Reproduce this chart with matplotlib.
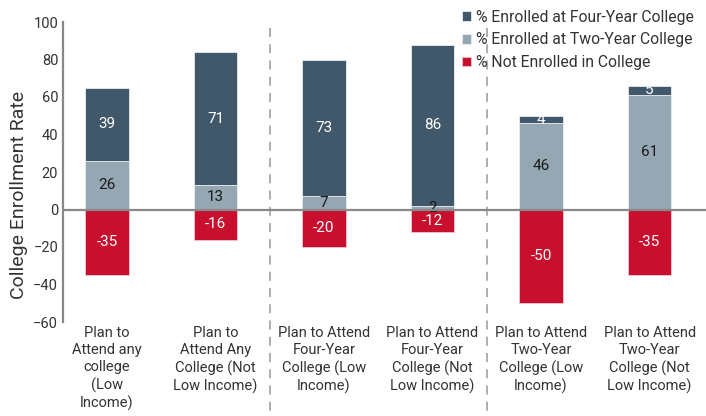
import numpy as np
import matplotlib
matplotlib.use("Agg")
from matplotlib import pyplot as plt
from matplotlib import transforms

plt.rcParams['font.family'] = ['Roboto', 'DejaVu Sans']

categories = [
    "Plan to\nAttend any\ncollege\n(Low\nIncome)",
    "Plan to\nAttend Any\nCollege (Not\nLow Income)",
    "Plan to Attend\nFour-Year\nCollege (Low\nIncome)",
    "Plan to Attend\nFour-Year\nCollege (Not\nLow Income)",
    "Plan to Attend\nTwo-Year\nCollege (Low\nIncome)",
    "Plan to Attend\nTwo-Year\nCollege (Not\nLow Income)",
]
four_year = [39, 71, 73, 86, 4, 5]
two_year = [26, 13, 7, 2, 46, 61]
not_enrolled = [-35, -16, -20, -12, -50, -35]
y_ticks = [-60, -40, -20, 0, 20, 40, 60, 80, 100]

dark = "#41586a"
light = "#94a7b3"
red = "#c8102e"
grey_txt = "#333333"

fig = plt.figure(figsize=(7.06, 4.16), dpi=100)
ax = fig.add_axes([63 / 706, 1 - 322 / 416, 1 - 63 / 706, 300 / 416])

x = np.arange(len(categories))
w = 0.4
b_two = ax.bar(x, two_year, w, color=light, edgecolor="#e8eef2", linewidth=0.6,
               label="% Enrolled at Two-Year College")
b_four = ax.bar(x, four_year, w, bottom=two_year, color=dark, edgecolor="#e8eef2",
                linewidth=0.6, label="% Enrolled at Four-Year College")
b_not = ax.bar(x, not_enrolled, w, color=red, edgecolor="#f0c8d0", linewidth=0.6,
               label="% Not Enrolled in College")

ax.bar_label(b_four, labels=[str(v) for v in four_year], label_type="center",
             color="white", fontsize=11)
ax.bar_label(b_two, labels=[str(v) for v in two_year], label_type="center",
             color="#1a1a1a", fontsize=11)
ax.bar_label(b_not, labels=[str(v) for v in not_enrolled], label_type="center",
             color="white", fontsize=11)

ax.set_xlim(-0.405, 5.52)
ax.set_ylim(-60, 100)
ax.set_yticks(y_ticks)
ax.set_xticks(x)
ax.set_xticklabels(categories, fontsize=10.5, color=grey_txt, linespacing=1.27)
ax.tick_params(axis="both", length=0, labelsize=10.5, colors=grey_txt)
ax.tick_params(axis="x", pad=3)
ax.set_ylabel("College Enrollment Rate", fontsize=14, color=grey_txt)
ax.yaxis.set_label_coords(-0.054, 0.425)

for s in ["top", "right", "bottom"]:
    ax.spines[s].set_visible(False)
ax.spines["left"].set_color("#888888")
ax.spines["left"].set_linewidth(1.6)
ax.axhline(0, color="#888888", linewidth=1.6, zorder=3)

# dashed separators between the plan groups, running into the label area
trans = transforms.blended_transform_factory(ax.transData, ax.transAxes)
for sep in [1.5, 3.5]:
    ax.plot([sep, sep], [0.98, -0.32], transform=trans, clip_on=False,
            color="#a8a8a8", linewidth=1.3, dashes=(5, 4))

handles = [b_four, b_two, b_not]
fig.legend(handles, [h.get_label() for h in handles], loc="upper left",
           bbox_to_anchor=(0.634, 1.01), frameon=False, fontsize=11.3,
           handlelength=0.6, handleheight=0.6, handletextpad=0.3,
           labelspacing=0.48, labelcolor=grey_txt)

fig.savefig("out.png", dpi=100)
